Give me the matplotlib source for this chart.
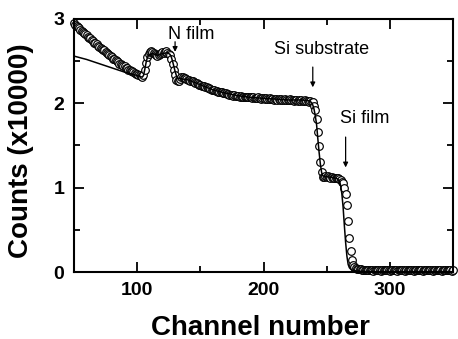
import numpy as np
import matplotlib
matplotlib.use("Agg")
import matplotlib.pyplot as plt

plt.rcParams['font.family'] = ['Liberation Sans', 'DejaVu Sans']

# medidos: cuentas (x10000) por canal, 50..350
channels = np.arange(50, 351)
counts = [
    2.95, 2.93, 2.92, 2.90, 2.89, 2.87, 2.86, 2.85, 2.83, 2.82,
    2.81, 2.79, 2.78, 2.77, 2.75, 2.74, 2.72, 2.71, 2.70, 2.68,
    2.67, 2.66, 2.65, 2.63, 2.63, 2.61, 2.60, 2.58, 2.57, 2.56,
    2.55, 2.53, 2.53, 2.51, 2.50, 2.49, 2.47, 2.47, 2.45, 2.44,
    2.44, 2.42, 2.42, 2.40, 2.40, 2.38, 2.38, 2.37, 2.36, 2.35,
    2.35, 2.34, 2.33, 2.32, 2.31, 2.34, 2.40, 2.48, 2.55, 2.59,
    2.61, 2.62, 2.61, 2.60, 2.58, 2.57, 2.56, 2.57, 2.58, 2.60,
    2.61, 2.60, 2.61, 2.62, 2.60, 2.59, 2.57, 2.53, 2.47, 2.40,
    2.33, 2.28, 2.26, 2.27, 2.29, 2.31, 2.31, 2.30, 2.30, 2.29,
    2.28, 2.28, 2.27, 2.26, 2.26, 2.25, 2.24, 2.24, 2.23, 2.22,
    2.22, 2.21, 2.21, 2.20, 2.19, 2.19, 2.18, 2.18, 2.17, 2.16,
    2.16, 2.16, 2.15, 2.15, 2.14, 2.14, 2.13, 2.13, 2.12, 2.12,
    2.12, 2.11, 2.11, 2.10, 2.10, 2.10, 2.09, 2.10, 2.09, 2.09,
    2.09, 2.08, 2.09, 2.08, 2.08, 2.07, 2.08, 2.07, 2.07, 2.07,
    2.07, 2.06, 2.07, 2.06, 2.06, 2.06, 2.07, 2.06, 2.05, 2.06,
    2.06, 2.05, 2.06, 2.05, 2.05, 2.06, 2.05, 2.05, 2.04, 2.05,
    2.05, 2.04, 2.05, 2.04, 2.05, 2.04, 2.04, 2.05, 2.04, 2.04,
    2.04, 2.05, 2.04, 2.04, 2.03, 2.04, 2.04, 2.03, 2.04, 2.03,
    2.04, 2.03, 2.03, 2.04, 2.03, 2.03, 2.02, 2.03, 2.02, 2.01,
    1.97, 1.92, 1.81, 1.66, 1.49, 1.31, 1.18, 1.13, 1.13, 1.14,
    1.13, 1.14, 1.13, 1.12, 1.13, 1.12, 1.12, 1.11, 1.12, 1.11,
    1.10, 1.09, 1.07, 1.05, 1.00, 0.93, 0.80, 0.60, 0.40, 0.25,
    0.14, 0.08, 0.06, 0.05, 0.04, 0.035, 0.03, 0.03, 0.025, 0.025,
    0.02, 0.025, 0.02, 0.02, 0.025, 0.02, 0.02, 0.015, 0.02, 0.02,
    0.025, 0.02, 0.02, 0.015, 0.02, 0.02, 0.025, 0.02, 0.02, 0.02,
    0.015, 0.02, 0.02, 0.025, 0.02, 0.02, 0.015, 0.02, 0.02, 0.02,
    0.025, 0.02, 0.015, 0.02, 0.02, 0.02, 0.02, 0.025, 0.02, 0.015,
    0.02, 0.02, 0.02, 0.025, 0.02, 0.02, 0.015, 0.02, 0.02, 0.02,
    0.02, 0.025, 0.02, 0.02, 0.015, 0.02, 0.02, 0.02, 0.025, 0.02,
    0.02, 0.015, 0.02, 0.02, 0.02, 0.025, 0.02, 0.02, 0.02, 0.015,
    0.02,
]

# simulacion (linea continua)
fit_channels = [50, 60, 70, 80, 90, 100, 104, 105, 106, 107, 108, 109, 112, 116,
                120, 124, 126, 127, 128, 129, 130, 131, 132, 135, 140, 150, 160,
                170, 180, 190, 200, 210, 220, 230, 236, 238, 239, 240, 241, 242,
                243, 244, 245, 246, 247, 250, 255, 258, 260, 261, 262, 263, 264,
                265, 266, 267, 268, 270, 275, 290, 350]
fit_counts = [2.56, 2.52, 2.47, 2.42, 2.37, 2.33, 2.31, 2.33, 2.40, 2.48, 2.54, 2.57,
              2.59, 2.57, 2.59, 2.60, 2.58, 2.55, 2.50, 2.44, 2.38, 2.33, 2.30,
              2.29, 2.28, 2.22, 2.16, 2.12, 2.09, 2.07, 2.06, 2.05, 2.04, 2.04,
              2.03, 2.01, 1.98, 1.93, 1.85, 1.75, 1.58, 1.42, 1.28, 1.18, 1.14,
              1.13, 1.12, 1.11, 1.08, 1.03, 0.93, 0.77, 0.55, 0.35, 0.19, 0.09,
              0.05, 0.02, 0.01, 0.0, 0.0]

fig = plt.figure(figsize=(4.58, 3.39), dpi=100)
ax = fig.add_axes([0.1616, 0.1976, 0.8275, 0.7464])

ax.plot(channels, counts, 'o', markersize=5.5, markerfacecolor='white',
        markeredgecolor='black', markeredgewidth=0.85, clip_on=False, zorder=2)
ax.plot(fit_channels, fit_counts, '-', color='black', linewidth=1.1, zorder=3)

ax.set_xlim(50, 350)
ax.set_ylim(0, 3)
ax.set_xticks([100, 200, 300])
ax.set_xticks([50, 150, 250, 350], minor=True)
ax.set_yticks([0, 1, 2, 3])
ax.set_yticks([0.5, 1.5, 2.5], minor=True)
ax.tick_params(which='both', direction='in', top=True, right=True, width=1.3)
ax.tick_params(which='major', length=7, pad=7, labelsize=14)
ax.tick_params(which='minor', length=4)
for lab in ax.get_xticklabels() + ax.get_yticklabels():
    lab.set_fontweight('bold')
for sp in ax.spines.values():
    sp.set_linewidth(1.5)

ax.set_xlabel('Channel number', fontsize=20, fontweight='bold')
ax.set_ylabel('Counts (x10000)', fontsize=20, fontweight='bold')
ax.xaxis.set_label_coords(0.493, -0.168)
ax.yaxis.set_label_coords(-0.1055, 0.48)

# anotaciones
arrow = dict(arrowstyle='-|>', color='black', lw=0.9, mutation_scale=7,
             shrinkA=0, shrinkB=0)
ax.text(142.5, 2.82, 'N film', fontsize=13, ha='center', va='center')
ax.annotate('', xy=(130, 2.61), xytext=(130, 2.73), arrowprops=arrow)
ax.text(246, 2.64, 'Si substrate', fontsize=13, ha='center', va='center')
ax.annotate('', xy=(239, 2.19), xytext=(239, 2.43), arrowprops=arrow)
ax.text(280, 1.82, 'Si film', fontsize=13, ha='center', va='center')
ax.annotate('', xy=(265, 1.24), xytext=(265, 1.60), arrowprops=arrow)

fig.savefig('out.png', dpi=100)
